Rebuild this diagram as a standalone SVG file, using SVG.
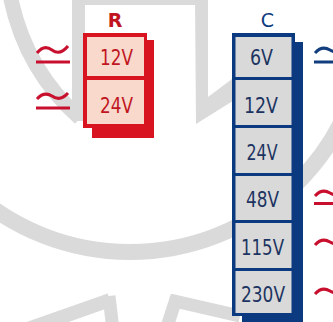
<svg xmlns="http://www.w3.org/2000/svg" width="333" height="322" viewBox="0 0 333 322">
<style>
.wm{fill:none;stroke:#dadada}
.wmf{fill:#dadada}
.rb{fill:#d7141f}
.rc{fill:#f9d9cc}
.rt{font-family:"DejaVu Sans Condensed","DejaVu Sans",sans-serif;font-size:21px;fill:#c0161f;text-anchor:middle}
.cb{fill:#0c3a80}
.cc{fill:#d9d9d9}
.ct{font-family:"DejaVu Sans Condensed","DejaVu Sans",sans-serif;font-size:21px;fill:#1c3461;text-anchor:middle}
.lbl{font-family:"DejaVu Sans",sans-serif;font-size:19px;text-anchor:middle}
.sr{fill:none;stroke:#c8102e;stroke-width:3}
.sb{fill:none;stroke:#123e80;stroke-width:3}
</style>
<rect width="333" height="322" fill="#ffffff"/>
<g id="watermark">
  <circle class="wm" cx="130" cy="15" r="237" stroke-width="16"/>
  <path class="wm" d="M10,-5 Q25,70 80,118" stroke-width="15"/>
  <rect class="wmf" x="72" y="-1" width="13" height="122"/>
  <rect class="wmf" x="72" y="-1" width="136" height="6"/>
  <polygon class="wmf" points="195,-1 208,-1 208,97 236,76 236,99 196,124"/>
  <path class="wm" d="M25,330 L110,300" stroke-width="14"/>
  <path class="wm" d="M109,296 L113,330" stroke-width="13"/>
  <path class="wm" d="M177,296 L166,330" stroke-width="13"/>
  <path class="wm" d="M170,300 L240,316" stroke-width="13"/>
</g>
<g id="connectors"></g>
<g id="node-R">
  <rect class="rb" x="92" y="40" width="62" height="98"/>
  <rect class="rb" x="83" y="33" width="64" height="95"/>
  <rect class="rc" x="87" y="37" width="57" height="39"/>
  <rect class="rc" x="87" y="80" width="57" height="44"/>
  <text class="lbl" x="115" y="27" fill="#c0141e" font-weight="bold">R</text>
  <text class="rt" x="116.5" y="65" textLength="33" lengthAdjust="spacingAndGlyphs">12V</text>
  <text class="rt" x="116.5" y="113" textLength="33" lengthAdjust="spacingAndGlyphs">24V</text>
</g>
<g id="node-C">
  <rect class="cb" x="242" y="42" width="61" height="290"/>
  <rect class="cb" x="232" y="33" width="63" height="283"/>
  <rect class="cc" x="235.5" y="37" width="56" height="40"/>
  <rect class="cc" x="235.5" y="80" width="56" height="45"/>
  <rect class="cc" x="235.5" y="128" width="56" height="45"/>
  <rect class="cc" x="235.5" y="176" width="56" height="44"/>
  <rect class="cc" x="235.5" y="223" width="56" height="45"/>
  <rect class="cc" x="235.5" y="271" width="56" height="42"/>
  <text class="lbl" x="267.5" y="27" fill="#0c3a80">C</text>
  <text class="ct" x="261.5" y="65" textLength="23" lengthAdjust="spacingAndGlyphs">6V</text>
  <text class="ct" x="261" y="113" textLength="34" lengthAdjust="spacingAndGlyphs">12V</text>
  <text class="ct" x="262" y="160" textLength="31" lengthAdjust="spacingAndGlyphs">24V</text>
  <text class="ct" x="262.5" y="207" textLength="33" lengthAdjust="spacingAndGlyphs">48V</text>
  <text class="ct" x="262.5" y="255" textLength="43" lengthAdjust="spacingAndGlyphs">115V</text>
  <text class="ct" x="263" y="302" textLength="44" lengthAdjust="spacingAndGlyphs">230V</text>
</g>
<g id="symbols-R">
  <path class="sr" d="M37,53 Q44,44 52,50 Q60,56 68,46"/>
  <path class="sr" d="M36,62 H70"/>
  <path class="sr" d="M37,99 Q44,91 52,96 Q60,102 68,93"/>
  <path class="sr" stroke-width="3.5" d="M36,108 H70"/>
</g>
<g id="symbols-C">
  <path class="sb" d="M315,53 Q322,45 330,50 Q338,55 346,47"/>
  <path class="sb" d="M314,62 H340"/>
  <path class="sr" d="M315,196 Q322,188 330,193 Q338,198 346,190"/>
  <path class="sr" d="M314,203.5 H340"/>
  <path class="sr" d="M315,245 Q322,237 330,242 Q338,247 346,239"/>
  <path class="sr" d="M315,294 Q322,286 330,291 Q338,296 346,288"/>
</g>
</svg>
